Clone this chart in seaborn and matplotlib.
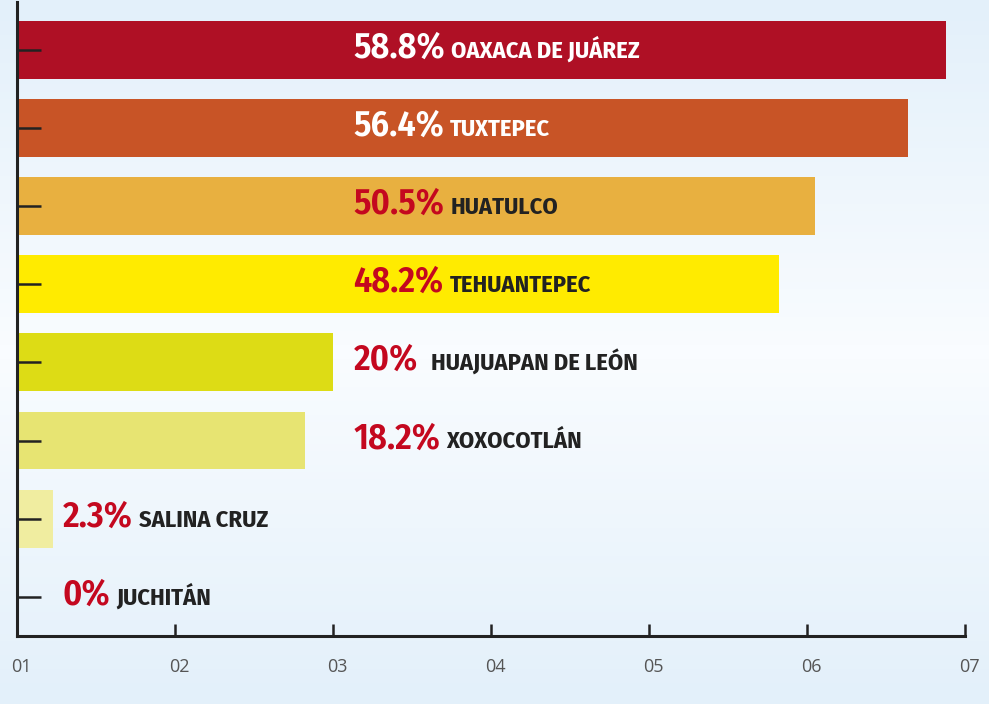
import numpy as np
import pandas as pd
import matplotlib
matplotlib.use('Agg')
import matplotlib.pyplot as plt
import matplotlib.transforms as mtransforms
from matplotlib import font_manager
import seaborn as sns

# datos
municipios = ['OAXACA DE JUÁREZ', 'TUXTEPEC', 'HUATULCO', 'TEHUANTEPEC',
              'HUAJUAPAN DE LEÓN', 'XOXOCOTLÁN', 'SALINA CRUZ', 'JUCHITÁN']
porcentajes = [58.8, 56.4, 50.5, 48.2, 20, 18.2, 2.3, 0]
etiquetas_pct = ['58.8%', '56.4%', '50.5%', '48.2%', '20%', '18.2%', '2.3%', '0%']
colores = ['#AF1025', '#C85426', '#E8B040', '#FFEB00',
           '#DDDC15', '#E7E472', '#F0EDA0', '#F0EDA0']
ticks_x = [0, 10, 20, 30, 40, 50, 60]
ticks_txt = ['01', '02', '03', '04', '05', '06', '07']

df = pd.DataFrame({'municipio': municipios, 'pct': porcentajes})

sns.set_style('white')
disponibles = {f.name for f in font_manager.fontManager.ttflist}
fuente = 'DejaVu Sans'
for cand in ['Fira Sans Condensed', 'PT Sans Narrow', 'Roboto Condensed', 'Liberation Sans Narrow']:
    if cand in disponibles:
        fuente = cand
        break
fuente_ejes = 'Open Sans' if 'Open Sans' in disponibles else 'DejaVu Sans'
plt.rcParams['font.family'] = [fuente, 'DejaVu Sans']

fig = plt.figure(figsize=(9.89, 7.04), dpi=100)

# fondo degradado
bg = fig.add_axes([0, 0, 1, 1], zorder=-10)
grad = np.concatenate([np.linspace(0, 1, 50), np.linspace(1, 0, 50)])
c_top = np.array([0xE3, 0xF0, 0xFA]) / 255
c_mid = np.array([0xF9, 0xFC, 0xFF]) / 255
img = c_top[None, :] + grad[:, None] * (c_mid - c_top)[None, :]
bg.imshow(img[:, None, :], aspect='auto', extent=[0, 1, 0, 1])
bg.axis('off')

W, H = 989, 704
ax = fig.add_axes([17 / W, (H - 636) / H, (965 - 17) / W, (636 - 2) / H])
ax.patch.set_alpha(0)

sns.barplot(data=df, x='pct', y='municipio', hue='municipio', palette=colores,
            legend=False, orient='h', width=0.74, saturation=1, linewidth=0, ax=ax)

ax.set_axisbelow(False)
ax.set_xlim(0, 60)
ax.set_ylim(7.5, -0.61)
ax.set_xlabel('')
ax.set_ylabel('')
for s in ['top', 'right']:
    ax.spines[s].set_visible(False)
for s in ['left', 'bottom']:
    ax.spines[s].set_linewidth(2.2)
    ax.spines[s].set_color('#222222')
    ax.spines[s].set_zorder(5)

ax.set_xticks(ticks_x)
ax.set_xticklabels(ticks_txt, fontfamily=fuente_ejes, fontsize=13, color='#555555')
ax.tick_params(axis='x', bottom=True, direction='in', length=9, width=1.8, color='#222222', pad=16)
ax.tick_params(axis='y', left=True, direction='in', length=17.5, width=1.8, color='#222222', labelleft=False)
desplaza = mtransforms.ScaledTranslation(4 / 100, 0, fig.dpi_scale_trans)
for lbl in ax.get_xticklabels():
    lbl.set_transform(lbl.get_transform() + desplaza)

fig.canvas.draw()
renderer = fig.canvas.get_renderer()
for i, (pct, nombre) in enumerate(zip(etiquetas_pct, municipios)):
    x0 = 21.3 if i < 6 else 2.9
    c_pct = 'white' if i < 2 else '#C4081F'
    c_nom = 'white' if i < 2 else '#222222'
    t = ax.text(x0, i + 0.1, pct, fontsize=26, fontweight=600, color=c_pct,
                va='baseline', ha='left')
    bb = t.get_window_extent(renderer)
    gap = 13 if pct == '20%' else 6
    xd = ax.transData.inverted().transform((bb.x1 + gap, 0))[0]
    ax.text(xd, i + 0.1, nombre, fontsize=17.5, fontweight='bold', color=c_nom,
            va='baseline', ha='left')

fig.savefig('out.png', dpi=100)
